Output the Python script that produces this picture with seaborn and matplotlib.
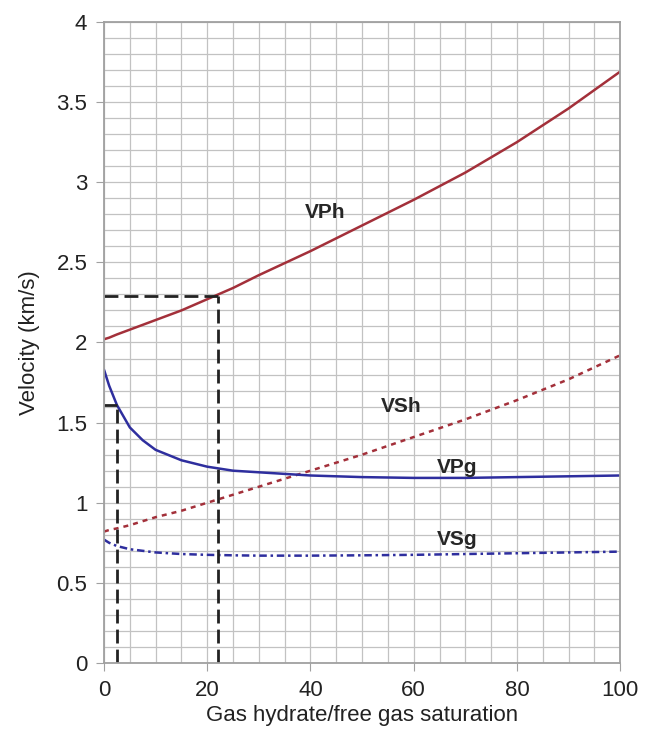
import numpy as np
import pandas as pd
import matplotlib.pyplot as plt
import seaborn as sns

# Velocity curves
sat = [0, 1, 2.5, 5, 7.5, 10, 15, 20, 25, 30, 40, 50, 60, 70, 80, 90, 100]
vph = [2.02, 2.03, 2.05, 2.08, 2.11, 2.14, 2.20, 2.27, 2.34, 2.42, 2.57, 2.73, 2.89, 3.06, 3.25, 3.46, 3.69]
vsh = [0.82, 0.83, 0.84, 0.86, 0.885, 0.91, 0.95, 1.00, 1.05, 1.10, 1.20, 1.30, 1.41, 1.52, 1.64, 1.77, 1.92]
vpg = [1.83, 1.73, 1.61, 1.47, 1.39, 1.33, 1.265, 1.225, 1.20, 1.19, 1.17, 1.16, 1.155, 1.155, 1.16, 1.165, 1.17]
vsg = [0.77, 0.75, 0.73, 0.71, 0.70, 0.69, 0.68, 0.675, 0.672, 0.67, 0.67, 0.672, 0.675, 0.68, 0.685, 0.69, 0.695]

# Reading guides (saturation, velocity)
guide_x = [22, 2.5]
guide_y = [2.29, 1.61]

labels = ["VPh", "VSh", "VPg", "VSg"]
label_pos = [(42.8, 2.81), (57.5, 1.60), (68.5, 1.22), (68.5, 0.77)]

df = pd.DataFrame({"sat": sat, "VPh": vph, "VSh": vsh, "VPg": vpg, "VSg": vsg})
long = df.melt(id_vars="sat", var_name="curve", value_name="vel")

sns.set_style("white")
plt.rcParams["font.family"] = ["Liberation Sans", "DejaVu Sans"]
fig = plt.figure(figsize=(6.46, 7.31), dpi=100)
ax = fig.add_axes([0.161, 0.093, 0.799, 0.877])

red = "#a3303a"
blue = "#2e2e9e"
palette = {"VPh": red, "VSh": red, "VPg": blue, "VSg": blue}
dashes = {"VPh": "", "VSh": (2, 2), "VPg": "", "VSg": (3, 1.5, 1, 1.5)}

sns.lineplot(data=long, x="sat", y="vel", hue="curve", style="curve",
             palette=palette, dashes=dashes, linewidth=1.8, legend=False, ax=ax)

for gx, gy in zip(guide_x, guide_y):
    ax.plot([0, gx], [gy, gy], color="#222222", lw=2, linestyle=(0, (5, 2.2)))
    ax.plot([gx, gx], [0, gy], color="#222222", lw=2, linestyle=(0, (5, 2.2)))

for lab, (lx, ly) in zip(labels, label_pos):
    ax.text(lx, ly, lab, fontsize=15, fontweight="bold", ha="center", va="center")

ax.set_xlim(0, 100)
ax.set_ylim(0, 4)
ax.set_xticks(np.arange(0, 101, 20))
ax.set_xticks(np.arange(0, 101, 5), minor=True)
ax.set_yticks([0, 0.5, 1, 1.5, 2, 2.5, 3, 3.5, 4])
ax.set_yticklabels(["0", "0.5", "1", "1.5", "2", "2.5", "3", "3.5", "4"])
ax.set_yticks(np.arange(0, 4.01, 0.1), minor=True)
ax.grid(which="both", color="#c2c2c2", linewidth=0.9)
ax.set_axisbelow(True)
for s in ax.spines.values():
    s.set_color("#a0a0a0")
    s.set_linewidth(1.3)
ax.tick_params(which="major", direction="out", length=6, color="#a0a0a0", pad=6,
               labelsize=16, labelcolor="#222222", bottom=True, left=True)
ax.tick_params(which="minor", length=0)

ax.set_xlabel("Gas hydrate/free gas saturation", fontsize=16, color="#222222", labelpad=3)
ax.set_ylabel("Velocity (km/s)", fontsize=16, color="#222222", labelpad=12)

fig.savefig("out.png", dpi=100)
